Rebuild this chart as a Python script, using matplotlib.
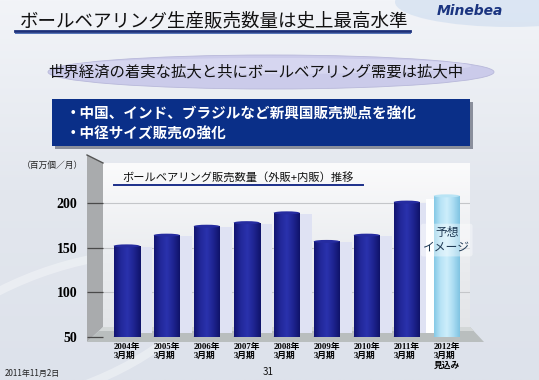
import numpy as np
import matplotlib
matplotlib.use("Agg")
import matplotlib.pyplot as plt
from matplotlib.patches import Ellipse, Rectangle, Polygon
from matplotlib.colors import LinearSegmentedColormap

plt.rcParams['font.family'] = ['Noto Sans CJK JP', 'DejaVu Sans']

# data (millions of pieces per month)
years = ['2004年', '2005年', '2006年', '2007年', '2008年', '2009年', '2010年', '2011年', '2012年']
periods = ['3月期'] * 9
notes = [''] * 8 + ['見込み']
volume = [152, 164, 174, 178, 189, 157, 164, 201, 208]
forecast = [False] * 8 + [True]
yticks = [50, 100, 150, 200]

title = 'ボールベアリング生産販売数量は史上最高水準'
banner = '世界経済の着実な拡大と共にボールベアリング需要は拡大中'
points = ['・中国、インド、ブラジルなど新興国販売拠点を強化', '・中径サイズ販売の強化']
chart_title = 'ボールベアリング販売数量（外販+内販）推移'

W, H = 539, 380
fig = plt.figure(figsize=(W / 100, H / 100), dpi=100)

# background / decoration layer in pixel coords
bg = fig.add_axes([0, 0, 1, 1])
bg.set_xlim(0, W)
bg.set_ylim(H, 0)
bg.axis('off')
grad = np.linspace(0, 1, 256).reshape(-1, 1)
bg_cmap = LinearSegmentedColormap.from_list('bg', ['#f2f4f8', '#e3e7ee', '#dde2eb'])
bg.imshow(grad, extent=[0, W, H, 0], aspect='auto', cmap=bg_cmap, zorder=0)
bg.add_patch(Ellipse((510, 2), 230, 50, color='#c6d8ee', alpha=0.5, lw=0, zorder=1))
bg.add_patch(Ellipse((525, 8), 150, 28, color='#dbe6f4', alpha=0.6, lw=0, zorder=1))
bg.add_patch(Ellipse((60, 330), 300, 120, angle=-20, fill=False, ec='white', lw=6, alpha=0.35, zorder=1))

# header
bg.text(20, 21, title, fontsize=13.3, color='#111111', va='center', ha='left', zorder=5)
bg.plot([15, 410], [30.5, 30.5], color='#1c2f7a', lw=2.0, zorder=5)
bg.plot([15, 410], [33, 33], color='#5070b8', lw=0.7, zorder=5)
bg.text(503, 11, 'Minebea', fontsize=10, color='#1a3480', style='italic',
        fontweight='bold', family=['DejaVu Sans'], ha='right', va='center', zorder=5)

# banner ellipse
bg.add_patch(Ellipse((271, 72), 446, 34, facecolor='#cbcbea', edgecolor='#b8b8da', lw=0.6, zorder=3))
bg.add_patch(Ellipse((271, 66), 400, 16, facecolor='#dadaf2', lw=0, alpha=0.8, zorder=3))
bg.text(256, 72, banner, fontsize=11.1, color='#111111', ha='center', va='center', zorder=5)

# blue box
bg.add_patch(Rectangle((55, 102), 418, 47, facecolor='#8a8f9c', lw=0, zorder=3))
bg.add_patch(Rectangle((52, 99), 418, 47, facecolor='#0a2f88', lw=0, zorder=4))
bg.text(66, 114, points[0], fontsize=10.5, color='white', fontweight='bold', va='center', zorder=5)
bg.text(66, 134, points[1], fontsize=10.5, color='white', fontweight='bold', va='center', zorder=5)

# 3d box walls
bg.text(22, 165, '（百万個／月）', fontsize=6.3, color='#222222', va='center', zorder=5)
wall_cmap = LinearSegmentedColormap.from_list('wall', ['#fbfbfc', '#eceef1', '#e3e5e8'])
bg.imshow(grad, extent=[103, 470, 327, 163], aspect='auto', cmap=wall_cmap, zorder=2)
bg.add_patch(Polygon([(87, 155), (103, 163), (103, 327), (87, 342)], closed=True,
                     facecolor='#a9abad', edgecolor='none', zorder=2))
bg.plot([87, 103], [155, 163], color='#555555', lw=1.0, zorder=3)
bg.add_patch(Polygon([(103, 327), (470, 327), (484, 342), (87, 342)], closed=True,
                     facecolor='#b9bebe', edgecolor='none', zorder=2))
bg.add_patch(Polygon([(103, 327), (470, 327), (474, 331), (99, 331)], closed=True,
                     facecolor='#d3d7d7', edgecolor='none', zorder=2))
bg.set_xlim(0, W)
bg.set_ylim(H, 0)

bg.text(122, 177, chart_title, fontsize=8.1, color='#111111', va='center', zorder=5)
bg.plot([114, 363], [184.5, 184.5], color='#1c2f8a', lw=1.4, zorder=5)

bg.text(5, 373, '2011年11月2日', fontsize=5.8, color='#222222', style='italic', va='center', zorder=5)
bg.text(268, 372, '31', fontsize=7, color='#111111', ha='center', va='center', zorder=5)

# bar chart layer
ymin = 50
px_per_unit = 134 / 150.0
ax = fig.add_axes([103 / W, (H - 337) / H, 367 / W, 174 / H])
ax.patch.set_alpha(0)
for s in ax.spines.values():
    s.set_visible(False)

x = np.arange(len(volume))
bw = 0.65
navy = LinearSegmentedColormap.from_list('navy', ['#121470', '#22289a', '#2a32ad', '#1e2490', '#10136a'])
cyan = LinearSegmentedColormap.from_list('cyan', ['#86c9e6', '#b7e3f6', '#cdeefb', '#aadcf2', '#80c4e2'])
hgrad = np.linspace(0, 1, 64).reshape(1, -1)

for g in [100, 150, 200]:
    ax.axhline(g, color='#c4c6c9', lw=0.8, zorder=1)

for i, v in enumerate(volume):
    # faint shadow on the back wall
    if not forecast[i]:
        ax.add_patch(Rectangle((x[i] - bw / 2 + 0.3, ymin + 5), bw, v - ymin - 6,
                               facecolor='#dfe2f3', lw=0, zorder=1.5))
    else:
        ax.add_patch(Rectangle((x[i] - bw / 2 - 0.2, ymin + 5), bw, v - ymin - 8,
                               facecolor='#ffffff', lw=0, zorder=1.5))
    cm = cyan if forecast[i] else navy
    bar = ax.bar(x[i], v - ymin, bottom=ymin, width=bw, color='none', lw=0, zorder=3)[0]
    im = ax.imshow(hgrad, extent=[x[i] - bw / 2, x[i] + bw / 2, ymin, v], aspect='auto',
                   cmap=cm, zorder=3)
    im.set_clip_path(bar)
    top_col = '#b9e4f5' if forecast[i] else '#262ca0'
    bot_col = '#84c6e3' if forecast[i] else '#14176e'
    ax.add_patch(Ellipse((x[i], ymin), bw, 4 / px_per_unit, facecolor=bot_col, lw=0, zorder=2.9))
    ax.add_patch(Ellipse((x[i], v), bw, 3 / px_per_unit, facecolor=top_col, lw=0, zorder=3.5))

ax.text(x[-1], 158.5, '予想\nイメージ', fontsize=8.5, color='#203a55', ha='center', va='center',
        linespacing=1.2, zorder=5,
        bbox=dict(boxstyle='round,pad=0.2', facecolor='white', edgecolor='none', alpha=0.4))

ax.set_xlim(-0.5925, 8.5825)
ax.set_ylim(ymin, ymin + 174 / px_per_unit)

ax.set_yticks(yticks)
ax.set_yticklabels([str(t) for t in yticks], fontsize=10, fontweight='bold',
                   family=['Liberation Serif'])
ax.tick_params(axis='y', length=11.5, width=0.9, color='#4a4a4a', pad=7)

xlabels = []
for yr, p, n in zip(years, periods, notes):
    lab = yr + '\n' + p
    if n:
        lab += '\n' + n
    xlabels.append(lab)
ax.set_xticks(x)
ax.set_xticklabels(xlabels, fontsize=6.3, fontweight='bold', linespacing=1.15,
                   family=['Liberation Serif', 'Noto Sans CJK JP'], va='top')
ax.tick_params(axis='x', length=0, pad=4.5)
for t in ax.get_xticklabels():
    t.set_multialignment('left')

fig.savefig('out.png', dpi=100)
